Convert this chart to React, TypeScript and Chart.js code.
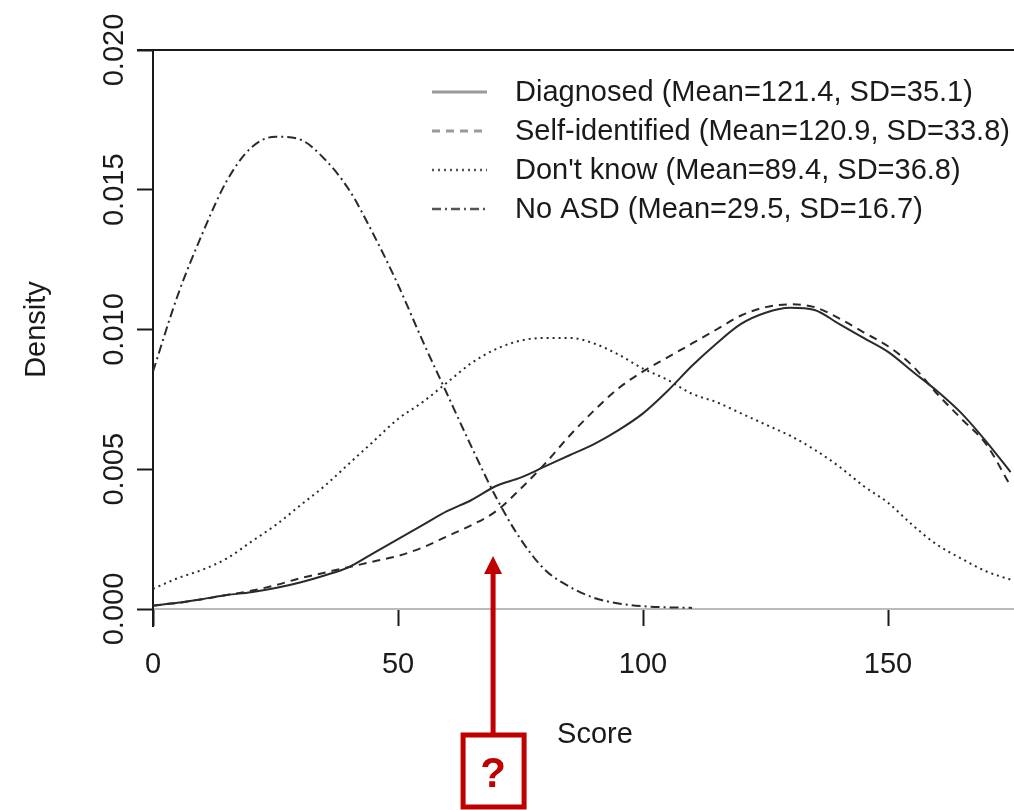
import React, { useEffect, useRef } from "react";
import { Chart, registerables } from "chart.js";

Chart.register(...registerables);

// ---- data ----
const scores = [0, 5, 10, 15, 20, 25, 30, 35, 40, 45, 50, 55, 60, 65, 70, 75, 80, 85, 90, 95, 100, 105, 110, 115, 120, 125, 130, 135, 140, 145, 150, 155, 160, 165, 170, 175];

const diagnosed = [0.00012, 0.00022, 0.00035, 0.0005, 0.0006, 0.00075, 0.00095, 0.0012, 0.0015, 0.002, 0.0025, 0.003, 0.0035, 0.0039, 0.0044, 0.0047, 0.0051, 0.0055, 0.0059, 0.0064, 0.007, 0.0078, 0.0087, 0.0095, 0.0102, 0.0106, 0.01078, 0.0107, 0.0102, 0.0097, 0.0092, 0.0085, 0.0078, 0.007, 0.006, 0.0049];

const selfIdentified = [0.00012, 0.00022, 0.00035, 0.0005, 0.00065, 0.00085, 0.0011, 0.0013, 0.0015, 0.0017, 0.0019, 0.0022, 0.0026, 0.003, 0.0035, 0.0043, 0.0052, 0.0062, 0.0071, 0.0079, 0.0085, 0.009, 0.0095, 0.01, 0.0105, 0.0108, 0.0109, 0.0108, 0.0104, 0.0099, 0.0094, 0.0087, 0.0077, 0.0068, 0.0059, 0.0044];

const dontKnow = [0.00072, 0.0011, 0.0014, 0.0018, 0.0024, 0.003, 0.0037, 0.0044, 0.0052, 0.006, 0.0068, 0.0074, 0.0081, 0.0088, 0.0093, 0.0096, 0.0097, 0.0097, 0.0095, 0.0091, 0.0086, 0.0082, 0.0077, 0.0074, 0.007, 0.0066, 0.0062, 0.0057, 0.0051, 0.0044, 0.0038, 0.003, 0.0023, 0.0018, 0.00135, 0.00105];

const noASD = [0.0085, 0.0112, 0.0134, 0.0153, 0.0165, 0.0169, 0.0168, 0.0161, 0.015, 0.0134, 0.0116, 0.0096, 0.0077, 0.0058, 0.004, 0.0025, 0.0014, 0.0008, 0.0004, 0.0002, 0.0001, 0.00006, 0.00004, null, null, null, null, null, null, null, null, null, null, null, null, null];

const seriesLabels = [
  "Diagnosed (Mean=121.4, SD=35.1)",
  "Self-identified (Mean=120.9, SD=33.8)",
  "Don't know (Mean=89.4, SD=36.8)",
  "No ASD (Mean=29.5, SD=16.7)",
];

const xTicks = [0, 50, 100, 150];
const yTicks = [0, 0.005, 0.01, 0.015, 0.02];
const xMax = 175.7;
const yMax = 0.02;
const xTitle = "Score";
const yTitle = "Density";

const arrowScore = 69.4;
const arrowTipDensity = 0.0019;

// ---- styles ----
const FONT = "'Liberation Sans', Arial, sans-serif";
const TEXT = "#1a1a1a";
const LINE = "#2a2a2a";
const dashes = [[], [8, 6], [2, 4], [9, 4, 2, 4]];
const legendColors = ["#999", "#999", "#555", "#555"];
const RED = "#C00000";

const toPoints = (vals: (number | null)[]) =>
  scores.map((s, i) => ({ x: s, y: vals[i] })).filter((p) => p.y !== null);

const overlayPlugin = {
  id: "overlay",
  afterDraw(chart: any) {
    const { ctx, chartArea, scales } = chart;
    ctx.save();
    // top frame line and extension of left axis
    ctx.strokeStyle = TEXT;
    ctx.lineWidth = 2;
    ctx.beginPath();
    ctx.moveTo(chartArea.left - 16, chartArea.top);
    ctx.lineTo(chartArea.right, chartArea.top);
    ctx.moveTo(chartArea.left, chartArea.bottom);
    ctx.lineTo(chartArea.left, chartArea.bottom + 18);
    ctx.stroke();

    // x axis title (offset like the reference)
    ctx.font = `29px ${FONT}`;
    ctx.fillStyle = TEXT;
    ctx.textAlign = "center";
    ctx.textBaseline = "middle";
    ctx.fillText(xTitle, 595, 735);

    // legend
    const rowsY = 92;
    const rowGap = 39;
    ctx.textAlign = "left";
    chart.data.datasets.forEach((ds: any, i: number) => {
      const y = rowsY + i * rowGap;
      ctx.strokeStyle = legendColors[i];
      ctx.lineWidth = i < 2 ? 3 : 2.5;
      ctx.setLineDash(dashes[i]);
      ctx.beginPath();
      ctx.moveTo(432, y);
      ctx.lineTo(487, y);
      ctx.stroke();
      ctx.setLineDash([]);
      ctx.fillStyle = TEXT;
      ctx.fillText(ds.label, 515, y + 1);
    });

    // red arrow + question box
    const ax = scales.x.getPixelForValue(arrowScore);
    const tipY = scales.y.getPixelForValue(arrowTipDensity);
    const boxTop = 735;
    ctx.strokeStyle = RED;
    ctx.fillStyle = RED;
    ctx.lineWidth = 5;
    ctx.beginPath();
    ctx.moveTo(ax, boxTop);
    ctx.lineTo(ax, tipY + 16);
    ctx.stroke();
    ctx.beginPath();
    ctx.moveTo(ax, tipY);
    ctx.lineTo(ax - 9, tipY + 18);
    ctx.lineTo(ax + 9, tipY + 18);
    ctx.closePath();
    ctx.fill();
    ctx.strokeRect(ax - 30, boxTop, 61, 72);
    ctx.font = `bold 42px ${FONT}`;
    ctx.textAlign = "center";
    ctx.textBaseline = "middle";
    ctx.fillText("?", ax, boxTop + 40);
    ctx.restore();
  },
};

export default function App() {
  const canvasRef = useRef<HTMLCanvasElement>(null);

  useEffect(() => {
    const canvas = canvasRef.current;
    if (!canvas) return;
    const vals = [diagnosed, selfIdentified, dontKnow, noASD];
    const chart = new Chart(canvas, {
      type: "line",
      data: {
        datasets: vals.map((v, i) => ({
          label: seriesLabels[i],
          data: toPoints(v),
          borderColor: LINE,
          borderWidth: 2,
          borderDash: dashes[i],
          pointRadius: 0,
          fill: false,
          cubicInterpolationMode: "monotone" as const,
        })),
      },
      options: {
        animation: false,
        responsive: false,
        maintainAspectRatio: false,
        layout: { padding: { top: 50, left: 0, right: 0, bottom: 0 } },
        plugins: { legend: { display: false }, tooltip: { enabled: false } },
        scales: {
          x: {
            type: "linear",
            min: 0,
            max: xMax,
            afterBuildTicks: (s: any) => {
              s.ticks = xTicks.map((v) => ({ value: v }));
            },
            afterFit: (s: any) => {
              s.height = 201;
            },
            ticks: {
              font: { family: FONT, size: 29 },
              color: TEXT,
              padding: 22,
              maxRotation: 0,
              autoSkip: false,
              callback: (v: any) => String(v),
            },
            grid: {
              drawOnChartArea: false,
              drawTicks: true,
              tickLength: 17,
              tickColor: TEXT,
              tickWidth: 2,
            },
            border: { display: true, color: "#bbb", width: 2 },
            title: { display: false, text: xTitle },
          },
          y: {
            type: "linear",
            min: 0,
            max: yMax,
            afterBuildTicks: (s: any) => {
              s.ticks = yTicks.map((v) => ({ value: v }));
            },
            afterFit: (s: any) => {
              s.width = 153;
            },
            ticks: {
              font: { family: FONT, size: 29 },
              color: TEXT,
              minRotation: 90,
              maxRotation: 90,
              crossAlign: "center",
              padding: -14,
              autoSkip: false,
              callback: (v: any) => Number(v).toFixed(3),
            },
            grid: {
              drawOnChartArea: false,
              drawTicks: true,
              tickLength: 16,
              tickColor: TEXT,
              tickWidth: 2,
            },
            border: { display: true, color: TEXT, width: 2 },
            title: {
              display: true,
              text: yTitle,
              font: { family: FONT, size: 29 },
              color: TEXT,
              padding: { top: 20, bottom: 0 },
            },
          },
        },
      },
      plugins: [overlayPlugin],
    });
    return () => chart.destroy();
  }, []);

  return (
    <div style={{ position: "fixed", left: 0, top: 0, width: 1014, height: 810, background: "#fff" }}>
      <canvas ref={canvasRef} width={1014} height={810} style={{ display: "block" }} />
    </div>
  );
}
